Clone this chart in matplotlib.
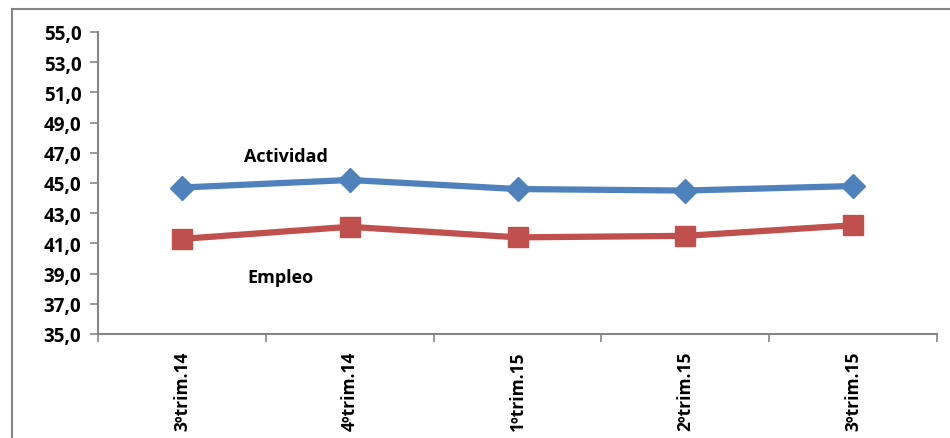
import matplotlib.pyplot as plt
from matplotlib.lines import Line2D

categories = ["3ºtrim.14", "4ºtrim.14", "1ºtrim.15", "2ºtrim.15", "3ºtrim.15"]
actividad = [44.7, 45.2, 44.6, 44.5, 44.8]
empleo = [41.3, 42.1, 41.4, 41.5, 42.2]
y_ticks = [35, 37, 39, 41, 43, 45, 47, 49, 51, 53, 55]

plt.rcParams['font.family'] = ['Open Sans', 'DejaVu Sans']

fig = plt.figure(figsize=(9.5, 4.39), dpi=100)
ax = fig.add_axes([98 / 950, 1 - 335 / 439, (937 - 98) / 950, (335 - 33) / 439])

x = range(len(categories))
ax.plot(x, actividad, color='#4F81BD', lw=4.5, marker='D', ms=12)
ax.plot(x, empleo, color='#C0504D', lw=4.5, marker='s', ms=14)

ax.set_xlim(-0.5, len(categories) - 0.5)
ax.set_ylim(35, 55)
ax.set_yticks(y_ticks)
ax.set_yticklabels([f"{v:.1f}".replace('.', ',') for v in y_ticks],
                   fontsize=13.5, fontweight='bold')

# category ticks sit on the boundaries, labels in the middle
ax.set_xticks([i - 0.5 for i in range(len(categories) + 1)])
ax.set_xticklabels([])
ax.set_xticks(list(x), minor=True)
ax.set_xticklabels(categories, minor=True, rotation=90, fontsize=12.5, fontweight='bold')
ax.tick_params(axis='x', which='minor', length=0, pad=12)
ax.tick_params(axis='x', which='major', length=6, color='#868686', width=1.2, direction='out')
ax.tick_params(axis='y', length=6, color='#868686', width=1.2, direction='out', pad=6)

for side in ['top', 'right']:
    ax.spines[side].set_visible(False)
for side in ['left', 'bottom']:
    ax.spines[side].set_color('#868686')
    ax.spines[side].set_linewidth(1.5)

ax.text(0.62, 46.8, "Actividad", fontsize=13, fontweight='bold', ha='center', va='center')
ax.text(0.59, 38.8, "Empleo", fontsize=13, fontweight='bold', ha='center', va='center')

# outer chart frame (only top and left visible in the crop)
fig.add_artist(Line2D([12 / 950, 1], [1 - 10 / 439, 1 - 10 / 439], color='#868686', lw=1.5))
fig.add_artist(Line2D([12 / 950, 12 / 950], [0, 1 - 10 / 439], color='#868686', lw=1.5))

fig.savefig("out.png", dpi=100)
